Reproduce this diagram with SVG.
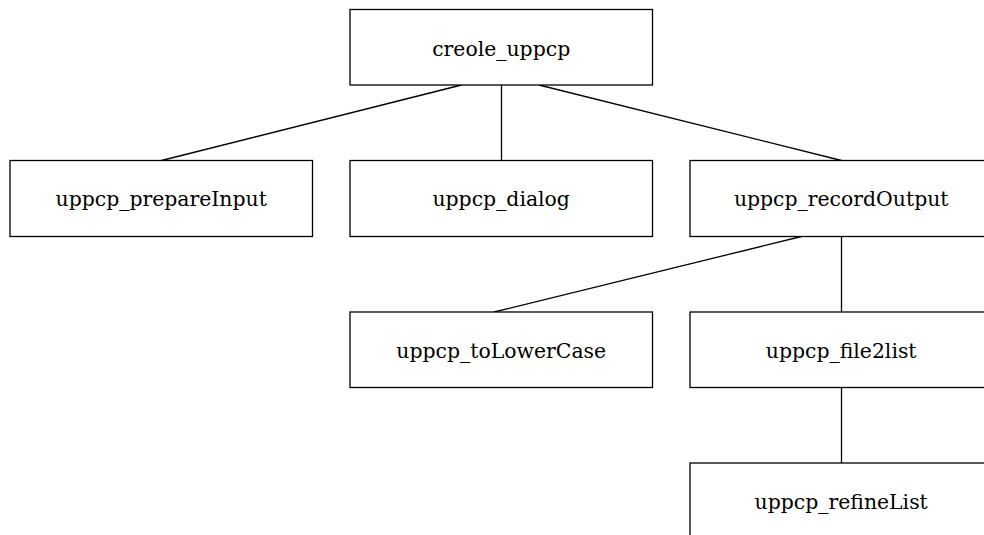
<svg xmlns="http://www.w3.org/2000/svg" width="984" height="535" viewBox="0 0 984 535">
  <style>
    .box { fill: #ffffff; stroke: #000000; stroke-width: 1.3; }
    .lbl { font-family: "DejaVu Serif", "Liberation Serif", serif; font-size: 20.4px; fill: #000000; text-anchor: middle; }
    .edge { stroke: #000000; stroke-width: 1.3; fill: none; }
  </style>
  <rect width="984" height="535" fill="#ffffff"/>
  <g id="connectors">
    <line class="edge" x1="461.5" y1="85" x2="161.5" y2="160.5"/>
    <line class="edge" x1="501.5" y1="85" x2="501.5" y2="160.5"/>
    <line class="edge" x1="539" y1="85" x2="841.5" y2="160.5"/>
    <line class="edge" x1="801.5" y1="236.5" x2="494" y2="312"/>
    <line class="edge" x1="841.5" y1="236.5" x2="841.5" y2="312"/>
    <line class="edge" x1="841.5" y1="387.5" x2="841.5" y2="463"/>
  </g>
  <g id="creole_uppcp">
    <rect class="box" x="350" y="9.5" width="302.5" height="75.5"/>
    <text class="lbl" x="501.2" y="55.5">creole_uppcp</text>
  </g>
  <g id="uppcp_prepareInput">
    <rect class="box" x="10" y="160.5" width="302.5" height="76"/>
    <text class="lbl" x="161.2" y="206">uppcp_prepareInput</text>
  </g>
  <g id="uppcp_dialog">
    <rect class="box" x="350" y="160.5" width="302.5" height="76"/>
    <text class="lbl" x="501.2" y="206">uppcp_dialog</text>
  </g>
  <g id="uppcp_recordOutput">
    <rect class="box" x="690" y="160.5" width="302.5" height="76"/>
    <text class="lbl" x="841.2" y="206">uppcp_recordOutput</text>
  </g>
  <g id="uppcp_toLowerCase">
    <rect class="box" x="350" y="312" width="302.5" height="75.5"/>
    <text class="lbl" x="501.2" y="357.5">uppcp_toLowerCase</text>
  </g>
  <g id="uppcp_file2list">
    <rect class="box" x="690" y="312" width="302.5" height="75.5"/>
    <text class="lbl" x="841.2" y="357.5">uppcp_file2list</text>
  </g>
  <g id="uppcp_refineList">
    <rect class="box" x="690" y="463" width="302.5" height="76"/>
    <text class="lbl" x="841.2" y="508.5">uppcp_refineList</text>
  </g>
</svg>
